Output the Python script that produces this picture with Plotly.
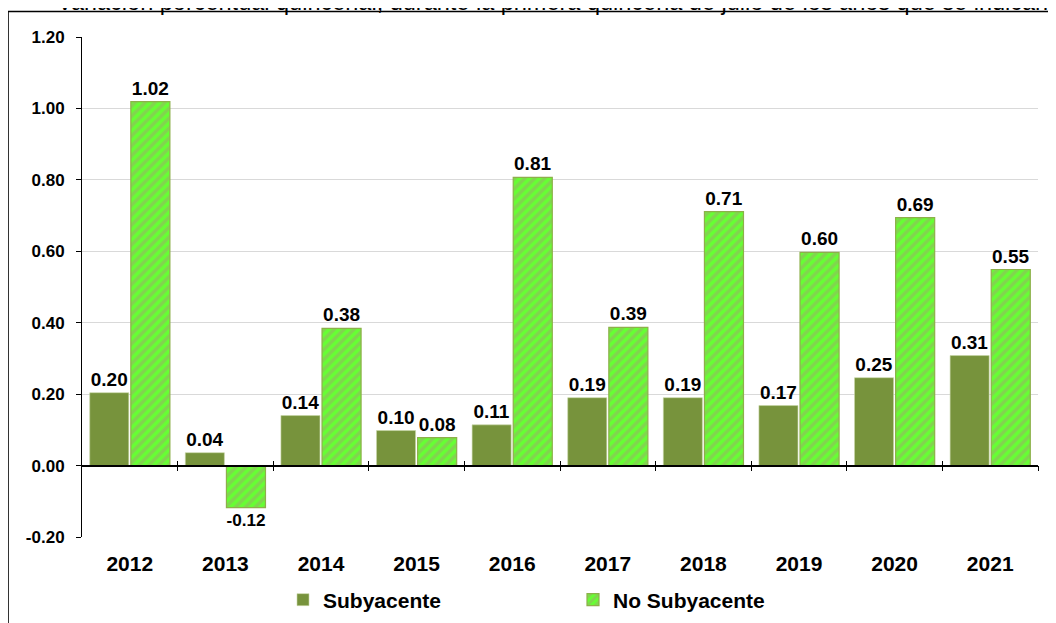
import plotly.graph_objects as go

years = ["2012", "2013", "2014", "2015", "2016", "2017", "2018", "2019", "2020", "2021"]
subyacente = [0.204, 0.036, 0.140, 0.098, 0.114, 0.190, 0.190, 0.168, 0.246, 0.308]
no_subyacente = [1.019, -0.118, 0.384, 0.078, 0.807, 0.387, 0.711, 0.597, 0.694, 0.549]
y_ticks = [-0.2, 0.0, 0.2, 0.4, 0.6, 0.8, 1.0, 1.2]
title_text = "Variación porcentual quincenal, durante la primera quincena de julio de los años que se indican"

W, H = 1056, 623
OFF = 8  # page body margin
ML, MT = 74, 29
PW, PH = 956, 500
MR, MB = W - ML - PW, H - MT - PH
FONT = "Arial, Liberation Sans, sans-serif"

def px_x(p):
    return (p - OFF - ML) / PW

def px_y(p):
    return (H - MB - (p - OFF)) / PH

def fmt(v):
    return f"{v:.2f}"

fig = go.Figure()
fig.add_trace(go.Bar(
    x=years, y=subyacente, name="Subyacente",
    marker=dict(color="#77933C", line=dict(color="#C9D6A8", width=0.6)),
    text=[fmt(v) for v in subyacente], texttemplate="%{text}", textposition="outside",
    textfont=dict(family=FONT, size=19, color="black", weight="bold"),
    cliponaxis=False,
))
fig.add_trace(go.Bar(
    x=years, y=no_subyacente, name="No Subyacente",
    marker=dict(color="#66FF33", line=dict(color="#8DB04A", width=1.2),
                pattern=dict(shape="/", fgcolor="#9EAA6C", size=7, solidity=0.5)),
    text=[fmt(v) for v in no_subyacente], texttemplate="%{text}", textposition="outside",
    textfont=dict(family=FONT, size=19, color="black", weight="bold"),
    cliponaxis=False,
))

zero_pos = (0 - y_ticks[0]) / (y_ticks[-1] - y_ticks[0])
bounds = [i + 0.5 for i in range(len(years))]

fig.update_layout(
    width=W, height=H,
    margin=dict(l=ML, r=MR, t=MT, b=MB, autoexpand=False),
    paper_bgcolor="white", plot_bgcolor="white",
    font=dict(family=FONT, size=15, color="black"),
    barmode="group", bargap=0.14, bargroupgap=0.05,
    showlegend=True,
    legend=dict(orientation="h", x=px_x(283), y=px_y(600), xanchor="left", yanchor="middle",
                font=dict(family=FONT, size=21, color="black", weight="bold"),
                entrywidth=245, entrywidthmode="pixels", itemwidth=30,
                bgcolor="rgba(0,0,0,0)"),
    xaxis=dict(type="category", showline=False, showgrid=False, zeroline=False, automargin=False,
               ticks="", tickfont=dict(family=FONT, size=21, color="black", weight="bold"),
               ticklabelstandoff=12, range=[-0.5, len(years) - 0.5]),
    xaxis2=dict(overlaying="x", anchor="free", position=zero_pos, side="bottom", automargin=False,
                range=[-0.5, len(years) - 0.5], showline=True, linecolor="black", linewidth=1.5,
                tickvals=bounds, ticks="outside", ticklen=5, tickcolor="black", tickwidth=1,
                showticklabels=False, showgrid=False, zeroline=False),
    xaxis3=dict(overlaying="x", anchor="free", position=zero_pos, side="bottom", automargin=False,
                range=[-0.5, len(years) - 0.5], showline=False,
                tickvals=bounds, ticks="inside", ticklen=5, tickcolor="black", tickwidth=1,
                showticklabels=False, showgrid=False, zeroline=False),
    yaxis=dict(range=[y_ticks[0], y_ticks[-1]], tickvals=y_ticks, ticktext=[fmt(v) for v in y_ticks],
               showline=True, linecolor="black", linewidth=1, automargin=False,
               ticks="outside", ticklen=5, tickcolor="black",
               tickfont=dict(family=FONT, size=17, color="black", weight="bold"),
               showgrid=True, gridcolor="#D9D9D9", gridwidth=1,
               zeroline=False, ticklabelstandoff=8),
)
fig.add_trace(go.Scatter(x=[0], y=[0], xaxis="x2", mode="markers", marker=dict(opacity=0),
                         showlegend=False, hoverinfo="skip"))
fig.add_trace(go.Scatter(x=[0], y=[0], xaxis="x3", mode="markers", marker=dict(opacity=0),
                         showlegend=False, hoverinfo="skip"))

fig.add_annotation(text=title_text, xref="paper", yref="paper", x=px_x(552), y=1,
                   xanchor="center", yanchor="bottom", yshift=20, showarrow=False,
                   font=dict(family=FONT, size=23.5, color="black"))

fig.add_shape(type="rect", xref="paper", yref="paper",
              x0=px_x(8), x1=px_x(W + 30), y0=px_y(H + 30), y1=px_y(11.5),
              line=dict(color="black", width=1.6), fillcolor="rgba(0,0,0,0)", layer="above")

fig.write_html("out.html")
